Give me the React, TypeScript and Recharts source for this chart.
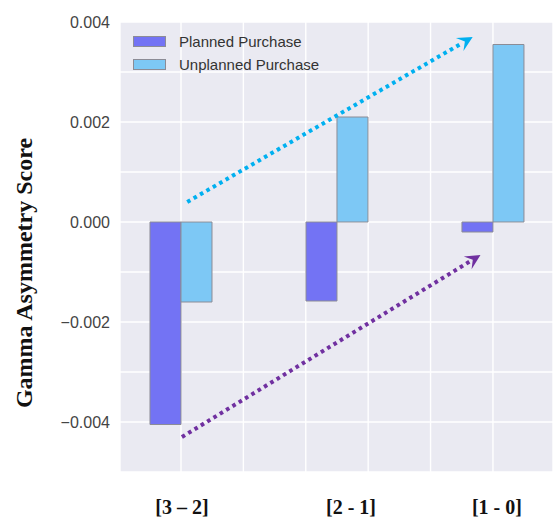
import React from "react";
import {
  BarChart,
  Bar,
  XAxis,
  YAxis,
  CartesianGrid,
  Legend,
  ReferenceLine,
} from "recharts";

const CATEGORIES = ["[3 – 2]", "[2 - 1]", "[1 - 0]"];
const PLANNED = [-0.00405, -0.00158, -0.0002];
const UNPLANNED = [-0.0016, 0.0021, 0.00355];
const SERIES_NAMES = ["Planned Purchase", "Unplanned Purchase"];

const Y_TICKS = [-0.005, -0.004, -0.003, -0.002, -0.001, 0, 0.001, 0.002, 0.003, 0.004];
const GRID_X = [0, 0.4, 0.8, 1.2, 1.6, 2.0];

// trend arrows, in data units (x = group index, y = score)
const UP_ARROW = [
  { x: 0.04, y: 0.0004 },
  { x: 1.87, y: 0.0037 },
];
const LOW_ARROW = [
  { x: 0.006, y: -0.0043 },
  { x: 1.92, y: -0.00066 },
];

const LABEL_DX = [1, 14, 4];

const PLANNED_COLOR = "#7373F4";
const UNPLANNED_COLOR = "#7DC8F5";
const EDGE = "#8C8C96";

const data = CATEGORIES.map((label, i) => ({
  pos: i,
  label,
  planned: PLANNED[i],
  unplanned: UNPLANNED[i],
}));

const X_DOMAIN = [-0.391, 2.385];

function YTick(props: any) {
  const { x, y, payload } = props;
  const v = Math.round(payload.value * 1000);
  if (v % 2 !== 0) return null;
  const txt = payload.value.toFixed(3).replace("-", "\u2212");
  return (
    <text
      x={x - 2}
      y={y}
      dy="0.35em"
      textAnchor="end"
      fill="#444"
      fontSize={16}
      fontFamily="Liberation Sans, Arial, sans-serif"
    >
      {txt}
    </text>
  );
}

function XTick(props: any) {
  const { x, payload } = props;
  const i = Math.round(payload.value);
  return (
    <text
      x={x + (LABEL_DX[i] || 0)}
      y={514}
      textAnchor="middle"
      fill="#111"
      fontSize={20}
      fontWeight="bold"
      fontFamily="Liberation Serif, Times New Roman, serif"
    >
      {CATEGORIES[i]}
    </text>
  );
}

function arrowShape(color: string) {
  return (props: any) => {
    const { x1, y1, x2, y2 } = props;
    const dx = x2 - x1;
    const dy = y2 - y1;
    const len = Math.sqrt(dx * dx + dy * dy);
    const ux = dx / len;
    const uy = dy / len;
    const nx = -uy;
    const ny = ux;
    const L = 15;
    const W = 7.5;
    const bx = x2 - ux * L;
    const by = y2 - uy * L;
    const mx = x2 - ux * L * 0.6;
    const my = y2 - uy * L * 0.6;
    const pts = [
      [x2, y2],
      [bx + nx * W, by + ny * W],
      [mx, my],
      [bx - nx * W, by - ny * W],
    ]
      .map((p) => p.join(","))
      .join(" ");
    return (
      <g>
        <line
          x1={x1}
          y1={y1}
          x2={mx - ux * 3}
          y2={my - uy * 3}
          stroke={color}
          strokeWidth={4}
          strokeDasharray="3.6 3.8"
        />
        <polygon points={pts} fill={color} />
      </g>
    );
  };
}

function LegendBox() {
  const colors = [PLANNED_COLOR, UNPLANNED_COLOR];
  return (
    <div style={{ fontFamily: "Liberation Sans, Arial, sans-serif" }}>
      {SERIES_NAMES.map((name, i) => (
        <div
          key={name}
          style={{ display: "flex", alignItems: "center", height: 23 }}
        >
          <div
            style={{
              width: 33,
              height: 11,
              boxSizing: "border-box",
              background: colors[i],
              border: `1px solid ${EDGE}`,
              marginRight: 13,
            }}
          />
          <span style={{ fontSize: 15, color: "#333" }}>{name}</span>
        </div>
      ))}
    </div>
  );
}

export default function App() {
  return (
    <div style={{ position: "absolute", left: 0, top: 0, background: "#fff" }}>
      <BarChart
        width={553}
        height={520}
        data={data}
        margin={{ top: 22, right: 0, bottom: 0, left: 0 }}
        barSize={31}
        barGap={0}
      >
        <CartesianGrid
          xAxisId="grid"
          fill="#EAEAF2"
          stroke="#FFFFFF"
          strokeWidth={1.4}
        />
        <XAxis
          xAxisId="grid"
          type="number"
          dataKey="pos"
          domain={X_DOMAIN}
          ticks={GRID_X}
          allowDataOverflow
          hide
        />
        <XAxis
          xAxisId="main"
          type="number"
          dataKey="pos"
          domain={X_DOMAIN}
          ticks={[0, 1, 2]}
          interval={0}
          allowDataOverflow
          axisLine={false}
          tickLine={false}
          height={48}
          tick={<XTick />}
        />
        <YAxis
          type="number"
          domain={[-0.005, 0.004]}
          ticks={Y_TICKS}
          interval={0}
          allowDataOverflow
          axisLine={false}
          tickLine={false}
          width={120}
          tick={<YTick />}
          label={{
            content: (p: any) => {
              const vb = p.viewBox;
              const cx = vb.x + 24;
              const cy = vb.y + vb.height / 2 + 26;
              return (
                <text
                  x={cx}
                  y={cy}
                  transform={`rotate(-90 ${cx} ${cy})`}
                  textAnchor="middle"
                  dominantBaseline="central"
                  fontSize={24}
                  fontWeight="bold"
                  fill="#111"
                  fontFamily="Liberation Serif, Times New Roman, serif"
                >
                  Gamma Asymmetry Score
                </text>
              );
            },
          }}
        />
        <Legend
          layout="horizontal"
          verticalAlign="middle"
          align="center"
          wrapperStyle={{ left: 133, top: 30, width: 260 }}
          content={() => <LegendBox />}
        />
        <Bar
          xAxisId="main"
          dataKey="planned"
          name={SERIES_NAMES[0]}
          fill={PLANNED_COLOR}
          stroke={EDGE}
          strokeWidth={1}
          isAnimationActive={false}
        />
        <Bar
          xAxisId="main"
          dataKey="unplanned"
          name={SERIES_NAMES[1]}
          fill={UNPLANNED_COLOR}
          stroke={EDGE}
          strokeWidth={1}
          isAnimationActive={false}
        />
        <ReferenceLine
          xAxisId="main"
          segment={UP_ARROW}
          ifOverflow="visible"
          shape={arrowShape("#00B0F0")}
        />
        <ReferenceLine
          xAxisId="main"
          segment={LOW_ARROW}
          ifOverflow="visible"
          shape={arrowShape("#7030A0")}
        />
      </BarChart>
    </div>
  );
}
